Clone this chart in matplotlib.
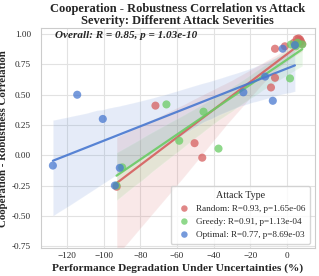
import numpy as np
import matplotlib
matplotlib.use("Agg")
import matplotlib.pyplot as plt
import seaborn as sns

# data
random_x = [-93.0, -71.8, -50.4, -46.2, -8.6, -6.4, -6.4, 5.5, 7.3, 8.5, 6.5, 4.0, 7.8, -1.0]
random_y = [-0.26, 0.41, 0.10, -0.02, 0.56, 0.64, 0.88, 0.96, 0.955, 0.92, 0.965, 0.93, 0.94, 0.90]
greedy_x = [-93.1, -90.0, -65.8, -58.8, -45.5, -37.3, 1.8, 2.3, 8.5, 6.0, 5.0]
greedy_y = [-0.25, -0.10, 0.42, 0.12, 0.36, 0.055, 0.635, 0.915, 0.915, 0.93, 0.90]
optimal_x = [-114.6, -100.6, -127.9, -94.0, -91.3, -23.7, -7.6, -11.8, -2.2, 4.5]
optimal_y = [0.50, 0.30, -0.085, -0.25, -0.104, 0.52, 0.45, 0.65, 0.88, 0.91]

group_names = ["Random", "Greedy", "Optimal"]
group_stats = ["R=0.93, p=1.65e-06", "R=0.91, p=1.13e-04", "R=0.77, p=8.69e-03"]
overall_text = "Overall: R = 0.85, p = 1.03e-10"
colors = ["#d65f5f", "#6acc64", "#4878d0"]

sns.set_theme(style="whitegrid")
plt.rcParams['font.family'] = ['Liberation Serif', 'DejaVu Serif']

fig = plt.figure(figsize=(3.19, 2.76), dpi=100)
ax = fig.add_axes([0.128, 0.101, 0.859, 0.797])

groups = [(random_x, random_y), (greedy_x, greedy_y), (optimal_x, optimal_y)]
for (xs, ys), name, stat, c in zip(groups, group_names, group_stats, colors):
    x = np.array(xs)
    y = np.array(ys)
    # regression line + bootstrap band (fixed seed so the band is stable)
    sns.regplot(x=x, y=y, ax=ax, scatter=False, color=c, seed=0,
                line_kws={"lw": 1.6, "alpha": 0.9}, truncate=True)
    ax.scatter(x, y, s=34, color=c, alpha=0.75, edgecolor="none",
               label=f"{name}: {stat}", zorder=3)

for coll in ax.collections:
    if coll.get_label().startswith("_"):
        coll.set_alpha(0.14)

ax.set_xlim(-134.5, 15.4)
ax.set_ylim(-0.767, 1.05)
ax.set_xticks([-120, -100, -80, -60, -40, -20, 0])
ax.set_yticks([-0.75, -0.5, -0.25, 0, 0.25, 0.5, 0.75, 1.0])
ax.set_yticklabels(["-0.75", "-0.50", "-0.25", "0.00", "0.25", "0.50", "0.75", "1.00"])
ax.tick_params(axis="x", labelsize=6.6, pad=3, length=0)
ax.tick_params(axis="y", labelsize=6.6, pad=7, length=0)
for sp in ax.spines.values():
    sp.set_color("#cccccc")
    sp.set_linewidth(0.8)
ax.grid(color="#e2e2e2", lw=0.8)

ax.set_xlabel("Performance Degradation Under Uncertainties (%)", fontsize=8.2,
              fontweight="bold", labelpad=2)
ax.set_ylabel("Cooperation - Robustness Correlation", fontsize=7.8,
              fontweight="bold", labelpad=3)
ax.set_title("Cooperation - Robustness Correlation vs Attack\nSeverity: Different Attack Severities",
             fontsize=9, fontweight="bold", linespacing=0.95, pad=3)
ax.text(0.05, 0.985, overall_text, transform=ax.transAxes, fontsize=8,
        fontweight="bold", fontstyle="italic", va="top")

leg = ax.legend(title="Attack Type", loc="lower right", fontsize=6.6, title_fontsize=7.2,
                frameon=True, borderpad=0.5, handletextpad=0.3, markerscale=0.8)
leg.get_frame().set_edgecolor("#cccccc")

fig.savefig("out.png", dpi=100)
